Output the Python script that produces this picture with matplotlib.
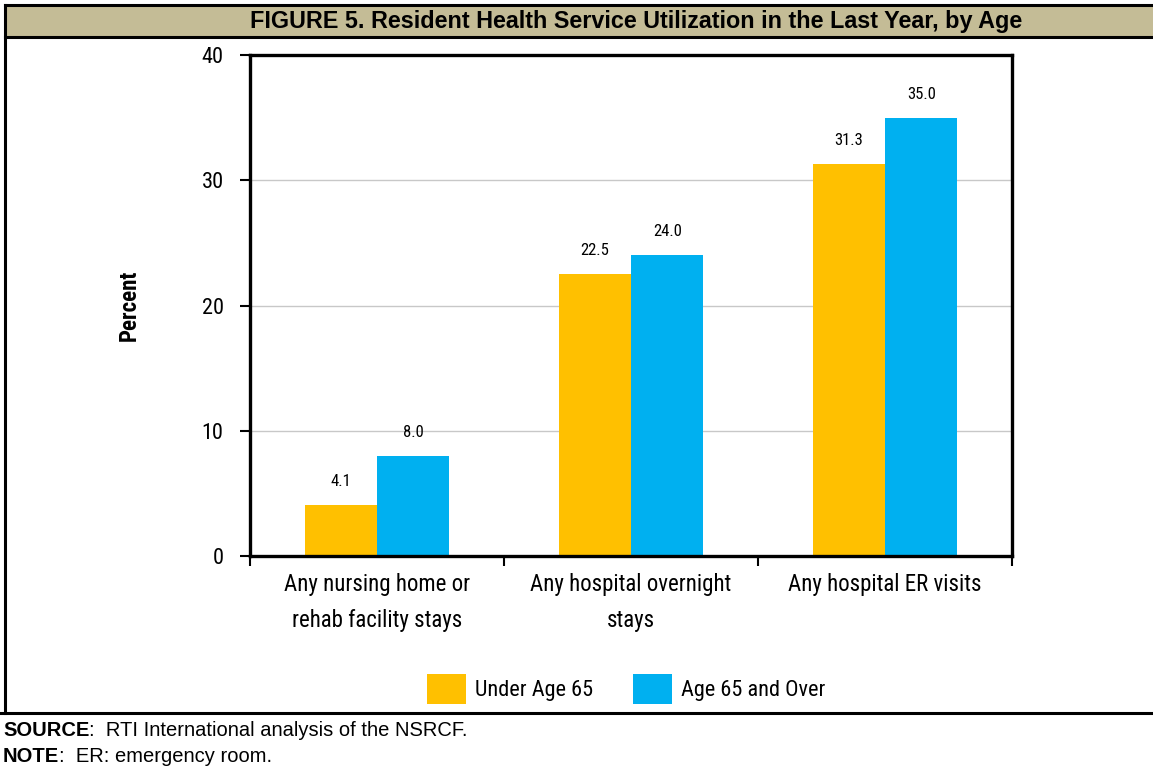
import matplotlib
matplotlib.use("Agg")
import matplotlib.pyplot as plt
from matplotlib import font_manager
from matplotlib.patches import Rectangle
from matplotlib.lines import Line2D
import numpy as np

# data
categories = ["Any nursing home or\nrehab facility stays",
              "Any hospital overnight\nstays",
              "Any hospital ER visits"]
under_65 = [4.1, 22.5, 31.3]
over_65 = [8.0, 24.0, 35.0]
series_names = ["Under Age 65", "Age 65 and Over"]
y_ticks = [0, 10, 20, 30, 40]

title = "FIGURE 5. Resident Health Service Utilization in the Last Year, by Age"
source_text = "RTI International analysis of the NSRCF."
note_text = "ER: emergency room."

ORANGE = "#FFC000"
BLUE = "#00B0F0"
TAN = "#C4BC96"

# pick a narrow font for the chart itself if one is around
installed = {f.name for f in font_manager.fontManager.ttflist}
narrow = next((n for n in ["Liberation Sans Narrow", "Roboto Condensed",
                           "Open Sans Condensed"] if n in installed), None)
if narrow:
    chart_font = dict(family=narrow)
else:
    chart_font = dict(family="DejaVu Sans", stretch="condensed")

W, H = 1153, 772
fig = plt.figure(figsize=(W / 100, H / 100), dpi=100)


def fx(px):
    return px / W


def fy(py):
    return 1 - py / H


# ---- table frame around the chart ----
bar_top, bar_bot, row_bot, left = 5, 37, 713, 5
fig.add_artist(Rectangle((fx(left), fy(bar_bot)), 1, (bar_bot - bar_top) / H,
                         transform=fig.transFigure, facecolor=TAN,
                         edgecolor="none", zorder=0))
for (x0, y0, x1, y1) in [(left, bar_top, W, bar_top), (left, bar_bot, W, bar_bot),
                         (0, row_bot, W, row_bot), (left, bar_top, left, row_bot)]:
    fig.add_artist(Line2D([fx(x0), fx(x1)], [fy(y0), fy(y1)], transform=fig.transFigure,
                          color="black", lw=2.2, solid_capstyle="projecting"))

fig.text(fx(636), fy(21.5), title, ha="center", va="center", fontsize=16.8,
         fontweight="bold", family="Liberation Sans")

src = fig.text(fx(3), fy(731), "SOURCE", ha="left", va="center", fontsize=14.5,
               fontweight="bold", family="Liberation Sans")
note = fig.text(fx(3), fy(756), "NOTE", ha="left", va="center", fontsize=14.5,
                fontweight="bold", family="Liberation Sans")
fig.canvas.draw()
r = fig.canvas.get_renderer()
for lab, rest, yy in [(src, source_text, 731), (note, note_text, 756)]:
    x_end = lab.get_window_extent(r).x1
    fig.text(x_end / W, fy(yy), ":  " + rest, ha="left", va="center", fontsize=14.5,
             family="Liberation Sans")

# ---- bar chart ----
ax = fig.add_axes([fx(250), fy(556), (1012 - 250) / W, (556 - 55) / H])
x = np.arange(len(categories))
w = 0.285
b1 = ax.bar(x - w / 2, under_65, w, color=ORANGE, label=series_names[0], zorder=2)
b2 = ax.bar(x + w / 2, over_65, w, color=BLUE, label=series_names[1], zorder=2)

for bars, vals in [(b1, under_65), (b2, over_65)]:
    for rect, v in zip(bars, vals):
        ax.annotate(f"{v:.1f}", (rect.get_x() + rect.get_width() / 2, rect.get_height()),
                    xytext=(0, 17), textcoords="offset points", ha="center",
                    va="center", fontsize=12, **chart_font)

ax.set_xlim(-0.5, len(categories) - 0.5)
ax.set_ylim(0, 40)
ax.set_yticks(y_ticks)
ax.set_yticklabels([str(t) for t in y_ticks], fontsize=16, **chart_font)
ax.yaxis.grid(True, color="#c8c8c8", lw=1, zorder=0)
ax.set_axisbelow(True)

# ticks between groups, labels under each group
ax.set_xticks(np.arange(len(categories) + 1) - 0.5)
ax.set_xticklabels([])
ax.set_xticks(x, minor=True)
ax.set_xticklabels(categories, minor=True, fontsize=16.5, linespacing=1.75, **chart_font)
ax.tick_params(axis="x", which="major", length=7, width=1.5, direction="out")
ax.tick_params(axis="x", which="minor", length=0, pad=12)
ax.tick_params(axis="y", length=7, width=1.5, pad=12)

for s in ax.spines.values():
    s.set_linewidth(2.4)

ax.set_ylabel("Percent", fontsize=16.5, fontweight="bold", **chart_font)
ax.yaxis.set_label_coords(-0.143, 0.5)

fig.legend(handles=[b1, b2], labels=series_names, loc="center",
           bbox_to_anchor=(fx(626), fy(689)), ncol=2, frameon=False,
           prop=dict(size=16, **chart_font), handlelength=1.75, handleheight=1.75,
           handletextpad=0.4, columnspacing=1.8)

fig.savefig("out.png", dpi=100)
